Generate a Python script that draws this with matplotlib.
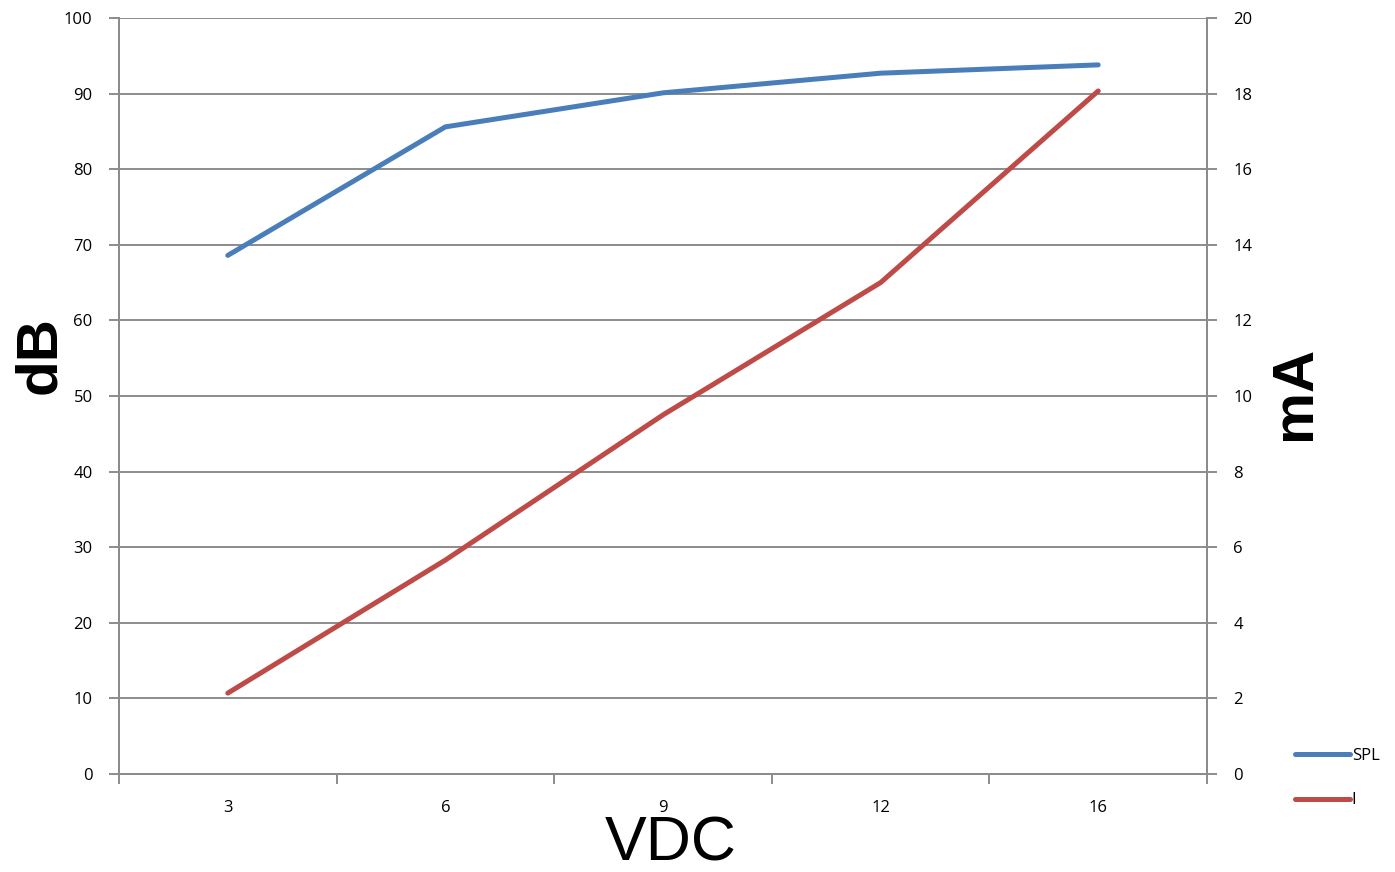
import matplotlib
matplotlib.use("Agg")
import matplotlib.pyplot as plt
from matplotlib.ticker import FixedLocator, NullFormatter, FixedFormatter

categories = ["3", "6", "9", "12", "16"]
spl_db = [68.6, 85.6, 90.1, 92.7, 93.8]
current_ma = [2.14, 5.66, 9.5, 13.0, 18.07]
left_ticks = [0, 10, 20, 30, 40, 50, 60, 70, 80, 90, 100]
right_ticks = [0, 2, 4, 6, 8, 10, 12, 14, 16, 18, 20]

W, H = 1395, 872
fig = plt.figure(figsize=(W / 100, H / 100), dpi=100)
ax = fig.add_axes([119 / W, 1 - 774 / H, (1207 - 119) / W, (774 - 18) / H])
ax2 = ax.twinx()

blue = "#4A7EBB"
red = "#BE4B48"
grid_c = "#8C8C8C"
tick_font = {"family": ["Open Sans", "DejaVu Sans"], "size": 12}

x = list(range(len(categories)))
l1, = ax.plot(x, spl_db, color=blue, lw=3.6, solid_capstyle="round", label="SPL", zorder=3)
l2, = ax2.plot(x, current_ma, color=red, lw=3.6, solid_capstyle="round", label="I", zorder=3)

ax.set_xlim(-0.5, len(categories) - 0.5)
ax.set_ylim(0, 100)
ax2.set_ylim(0, 20)

ax.set_yticks(left_ticks)
ax2.set_yticks(right_ticks)
ax.set_yticklabels([str(t) for t in left_ticks], fontdict=tick_font)
ax2.set_yticklabels([str(t) for t in right_ticks], fontdict=tick_font)

ax.xaxis.set_major_locator(FixedLocator([i - 0.5 for i in range(len(categories) + 1)]))
ax.xaxis.set_major_formatter(NullFormatter())
ax.xaxis.set_minor_locator(FixedLocator(x))
ax.xaxis.set_minor_formatter(FixedFormatter(categories))
for lab in ax.get_xticklabels(minor=True):
    lab.set_fontfamily(["Open Sans", "DejaVu Sans"])
    lab.set_fontsize(12)
ax.tick_params(axis="x", which="major", direction="out", length=7, width=1.4, color=grid_c)
ax.tick_params(axis="x", which="minor", length=0, pad=19)
ax.tick_params(axis="y", direction="out", length=7, width=1.4, color=grid_c, pad=12)
ax2.tick_params(axis="y", direction="out", length=7, width=1.4, color=grid_c, pad=12)

ax.grid(axis="y", color=grid_c, lw=1.4)
ax.set_axisbelow(True)
for a in (ax, ax2):
    for s in ("top",):
        a.spines[s].set_visible(False)
    for s in ("left", "right", "bottom"):
        a.spines[s].set_color(grid_c)
        a.spines[s].set_linewidth(1.4)

title_font = ["Liberation Sans", "DejaVu Sans"]
fig.text(40 / W, 1 - 355 / H, "dB", rotation=90, ha="center", va="center",
         fontsize=42, fontweight="bold", family=title_font)
fig.text(1295 / W, 1 - 393 / H, "mA", rotation=90, ha="center", va="center",
         fontsize=42, fontweight="bold", family=title_font)
fig.text(671 / W, 1 - 844 / H, "VDC", ha="center", va="center",
         fontsize=45, family=title_font)

fig.legend(handles=[l1, l2], labels=["SPL", "I"], loc="upper left",
           bbox_to_anchor=(1280 / W, 1 - 733 / H), frameon=False,
           handlelength=3.3, handletextpad=0.1, labelspacing=1.7,
           prop={"family": ["Open Sans", "DejaVu Sans"], "size": 12})

fig.savefig("out.png", dpi=100)
